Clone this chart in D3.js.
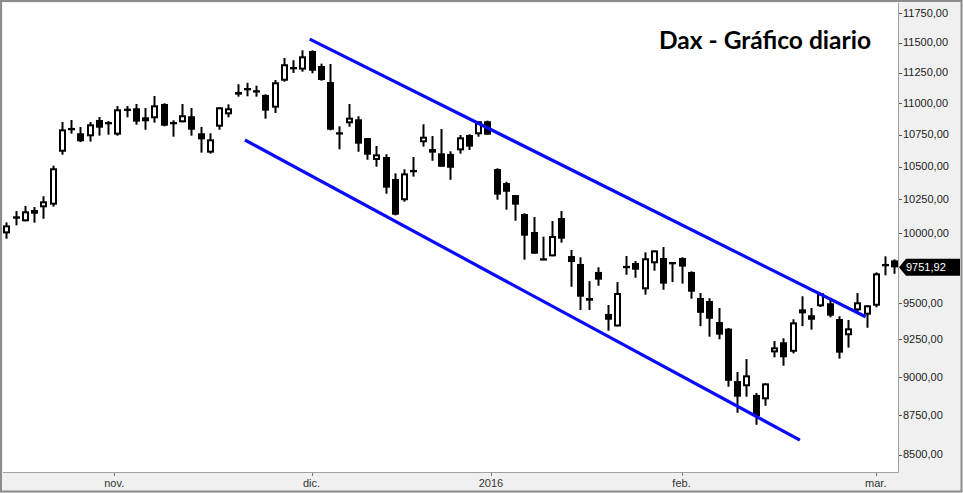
<!DOCTYPE html>
<html>
<head>
<meta charset="utf-8">
<script src="https://cdn.jsdelivr.net/npm/d3@7"></script>
<style>
  body { margin: 0; background: #fff; }
  svg { display: block; }
</style>
</head>
<body>
<svg id="chart" width="963" height="493"></svg>
<script>
// trading days, Oct 15 2015 - Mar 3 2016
const dates = [
  "2015-10-15","2015-10-16","2015-10-19","2015-10-20","2015-10-21","2015-10-22","2015-10-23","2015-10-26","2015-10-27","2015-10-28","2015-10-29","2015-10-30",
  "2015-11-02","2015-11-03","2015-11-04","2015-11-05","2015-11-06","2015-11-09","2015-11-10","2015-11-11","2015-11-12","2015-11-13","2015-11-16","2015-11-17","2015-11-18","2015-11-19","2015-11-20","2015-11-23","2015-11-24","2015-11-25","2015-11-26","2015-11-27","2015-11-30",
  "2015-12-01","2015-12-02","2015-12-03","2015-12-04","2015-12-07","2015-12-08","2015-12-09","2015-12-10","2015-12-11","2015-12-14","2015-12-15","2015-12-16","2015-12-17","2015-12-18","2015-12-21","2015-12-22","2015-12-23","2015-12-28","2015-12-29","2015-12-30",
  "2016-01-04","2016-01-05","2016-01-06","2016-01-07","2016-01-08","2016-01-11","2016-01-12","2016-01-13","2016-01-14","2016-01-15","2016-01-18","2016-01-19","2016-01-20","2016-01-21","2016-01-22","2016-01-25","2016-01-26","2016-01-27","2016-01-28","2016-01-29",
  "2016-02-01","2016-02-02","2016-02-03","2016-02-04","2016-02-05","2016-02-08","2016-02-09","2016-02-10","2016-02-11","2016-02-12","2016-02-15","2016-02-16","2016-02-17","2016-02-18","2016-02-19","2016-02-22","2016-02-23","2016-02-24","2016-02-25","2016-02-26","2016-02-29",
  "2016-03-01","2016-03-02","2016-03-03"
];

const opens = [
  9998,10124,10087,10171,10191,10211,10615,10802,10760,10736,10865,10849,
  10749,10956,10959,10855,10879,10994,10849,10847,10895,10760,10608,10812,10911,11069,11109,11105,11067,10964,11183,11282,11274,
  11429,11304,11172,10768,10839,10871,10722,10551,10574,10405,10244,10474,10689,10636,10603,10598,10626,10746,10752,10855,
  10481,10374,10283,10141,10008,9817,9831,10111,9833,9776,9535,9719,9424,9338,9749,9783,9596,9781,9819,9774,
  9819,9719,9535,9514,9368,9323,8971,8937,8880,8852,9162,9230,9166,9428,9415,9477,9498,9389,9278,9449,9419,
  9481,9767,9802
];
const highs = [
  10079,10163,10201,10193,10274,10507,10849,10865,10810,10849,10889,10857,
  10977,10977,10994,10961,11058,10999,10863,10994,10961,10810,10760,10967,10991,11154,11166,11142,11072,11189,11371,11352,11435,
  11435,11324,11321,10815,10994,10895,10722,10660,10595,10448,10479,10574,10831,10738,10794,10619,10746,10752,10855,10860,
  10487,10384,10283,10146,10119,9974,10089,10163,9877,9824,9654,9752,9486,9647,9833,9797,9860,9874,9898,9790,
  9824,9723,9570,9533,9465,9327,9031,9117,8893,8956,9239,9257,9387,9547,9465,9572,9526,9408,9382,9570,9484,
  9716,9831,9809
];
const lows = [
  9959,10057,10087,10077,10106,10196,10592,10757,10690,10694,10741,10749,
  10741,10887,10828,10788,10844,10815,10733,10847,10741,10608,10600,10788,10887,11053,11056,11053,10876,10921,11175,11247,11257,
  11244,11183,10783,10634,10812,10615,10553,10499,10293,10131,10233,10423,10655,10545,10499,10399,10600,10629,10733,10749,
  10248,10173,10091,9807,9850,9807,9831,9930,9614,9451,9451,9621,9309,9338,9699,9678,9558,9728,9593,9647,
  9636,9530,9340,9268,9250,8934,8765,8869,8688,8810,9129,9073,9155,9340,9316,9472,9401,9120,9194,9432,9329,
  9470,9695,9706
];
const closes = [
  10057,10106,10161,10143,10236,10487,10791,10788,10697,10831,10804,10836,
  10951,10943,10852,10887,10983,10820,10836,10903,10788,10712,10712,10967,10959,11091,11123,11093,10940,11170,11319,11296,11385,
  11265,11189,10788,10757,10884,10678,10592,10595,10339,10136,10448,10461,10733,10608,10499,10491,10728,10655,10855,10749,
  10286,10308,10211,9981,9850,9807,9979,9959,9790,9544,9516,9664,9384,9570,9762,9735,9817,9874,9636,9790,
  9757,9579,9432,9391,9282,8973,8869,9009,8744,8956,9196,9129,9366,9456,9384,9568,9412,9160,9325,9505,9484,
  9709,9776,9751.92
];

const yTicks = [11750, 11500, 11250, 11000, 10750, 10500, 10250, 10000, 9500, 9250, 9000, 8750, 8500];
const monthStarts = ["2015-11-01", "2015-12-01", "2016-01-01", "2016-02-01", "2016-03-01"];
const monthLabels = ["nov.", "dic.", "2016", "feb.", "mar."];

// channel lines: [candle index, price]
const upperChannel = [[32.8, 11530], [92.9, 9405]];
const lowerChannel = [[25.8, 10707], [85.8, 8591]];

const title = "Dax - Gráfico diario";

const W = 963, H = 493;
const plot = {left: 3, top: 3, right: 898, bottom: 472};

const parseDate = d3.utcParse("%Y-%m-%d");
const days = dates.map(parseDate);

const x = d3.scaleLinear().domain([0, dates.length - 1]).range([6.3, 894.3]);
const y = d3.scaleLog().domain([8500, 11750]).range([454.6, 13.3]);

const fmt = d3.formatLocale({decimal: ",", thousands: "", grouping: [3], currency: ["", ""]}).format(".2f");

// fractional candle index where a calendar date falls
function datePos(s) {
  const t = parseDate(s);
  const i = days.findIndex(d => d >= t);
  if (i <= 0) return Math.max(i, 0);
  return i - 1 + (t - days[i - 1]) / (days[i] - days[i - 1]);
}

const svg = d3.select("#chart");

// frame and panels
svg.append("rect").attr("width", W).attr("height", H).attr("fill", "#f0f0f0");
svg.append("rect")
  .attr("x", plot.left).attr("y", plot.top)
  .attr("width", plot.right - plot.left).attr("height", plot.bottom - plot.top)
  .attr("fill", "#fff");
svg.append("path")
  .attr("d", `M${plot.right + 0.5},${plot.top}V${plot.bottom + 0.5}H${plot.left}`)
  .attr("fill", "none").attr("stroke", "#a0a0a0").attr("stroke-width", 1);
svg.append("rect")
  .attr("x", 1).attr("y", 1).attr("width", W - 2.5).attr("height", H - 2.5)
  .attr("fill", "none").attr("stroke", "#8c8c8c").attr("stroke-width", 2);

// right price axis
const yAxis = svg.append("g").attr("font-family", "'Liberation Sans', Arial, sans-serif").attr("font-size", 11);
yAxis.selectAll("line").data(yTicks).join("line")
  .attr("x1", plot.right + 1).attr("x2", plot.right + 4)
  .attr("y1", d => Math.round(y(d)) + 0.5).attr("y2", d => Math.round(y(d)) + 0.5)
  .attr("stroke", "#555");
yAxis.selectAll("text").data(yTicks).join("text")
  .attr("x", plot.right + 5).attr("y", d => y(d)).attr("dy", "0.35em")
  .attr("fill", "#222").text(d => fmt(d));

// bottom time axis
const months = monthStarts.map((m, k) => ({pos: datePos(m), label: monthLabels[k]}));
const xAxis = svg.append("g").attr("font-family", "'Liberation Sans', Arial, sans-serif").attr("font-size", 11);
xAxis.selectAll("line").data(months).join("line")
  .attr("x1", d => Math.round(x(d.pos)) + 0.5).attr("x2", d => Math.round(x(d.pos)) + 0.5)
  .attr("y1", plot.bottom + 1).attr("y2", plot.bottom + 4)
  .attr("stroke", "#777");
xAxis.selectAll("text").data(months).join("text")
  .attr("x", d => x(d.pos)).attr("y", 487)
  .attr("text-anchor", "middle").attr("fill", "#333").text(d => d.label);

// candles
const candles = d3.range(dates.length).map(i => ({
  i, o: opens[i], h: highs[i], l: lows[i], c: closes[i]
}));
const cg = svg.append("g");
const candle = cg.selectAll("g").data(candles).join("g")
  .attr("transform", d => `translate(${Math.round(x(d.i)) + 0.5},0)`);
candle.append("line")
  .attr("y1", d => y(d.h)).attr("y2", d => y(d.l))
  .attr("stroke", "#000").attr("stroke-width", 2);
candle.append("rect")
  .attr("x", -2.5).attr("width", 5)
  .attr("y", d => y(Math.max(d.o, d.c)) + 1)
  .attr("height", d => Math.max(Math.abs(y(d.o) - y(d.c)) - 2, 0.3))
  .attr("fill", d => d.c >= d.o ? "#fff" : "#000")
  .attr("stroke", "#000").attr("stroke-width", 2);

// trend channel
const line = d3.line().x(d => x(d[0])).y(d => y(d[1]));
svg.selectAll(".channel").data([upperChannel, lowerChannel]).join("path")
  .attr("class", "channel")
  .attr("d", line)
  .attr("fill", "none").attr("stroke", "#0a0aff").attr("stroke-width", 3.2);

// last price tag
const last = closes[closes.length - 1];
const ty = y(last);
svg.append("path")
  .attr("d", `M${plot.right + 1},${ty}L${plot.right + 8},${ty - 8.5}H${W - 3}V${ty + 8.5}H${plot.right + 8}Z`)
  .attr("fill", "#000");
svg.append("text")
  .attr("x", plot.right + 8).attr("y", ty).attr("dy", "0.36em")
  .attr("font-family", "'Liberation Sans', Arial, sans-serif").attr("font-size", 11)
  .attr("fill", "#fff").text(fmt(last));

// title
svg.append("text")
  .attr("x", 659).attr("y", 49)
  .attr("font-family", "Lato, 'Open Sans', sans-serif").attr("font-weight", 700)
  .attr("font-size", 25)
  .attr("textLength", 212).attr("lengthAdjust", "spacingAndGlyphs")
  .attr("fill", "#000").text(title);
</script>
</body>
</html>
